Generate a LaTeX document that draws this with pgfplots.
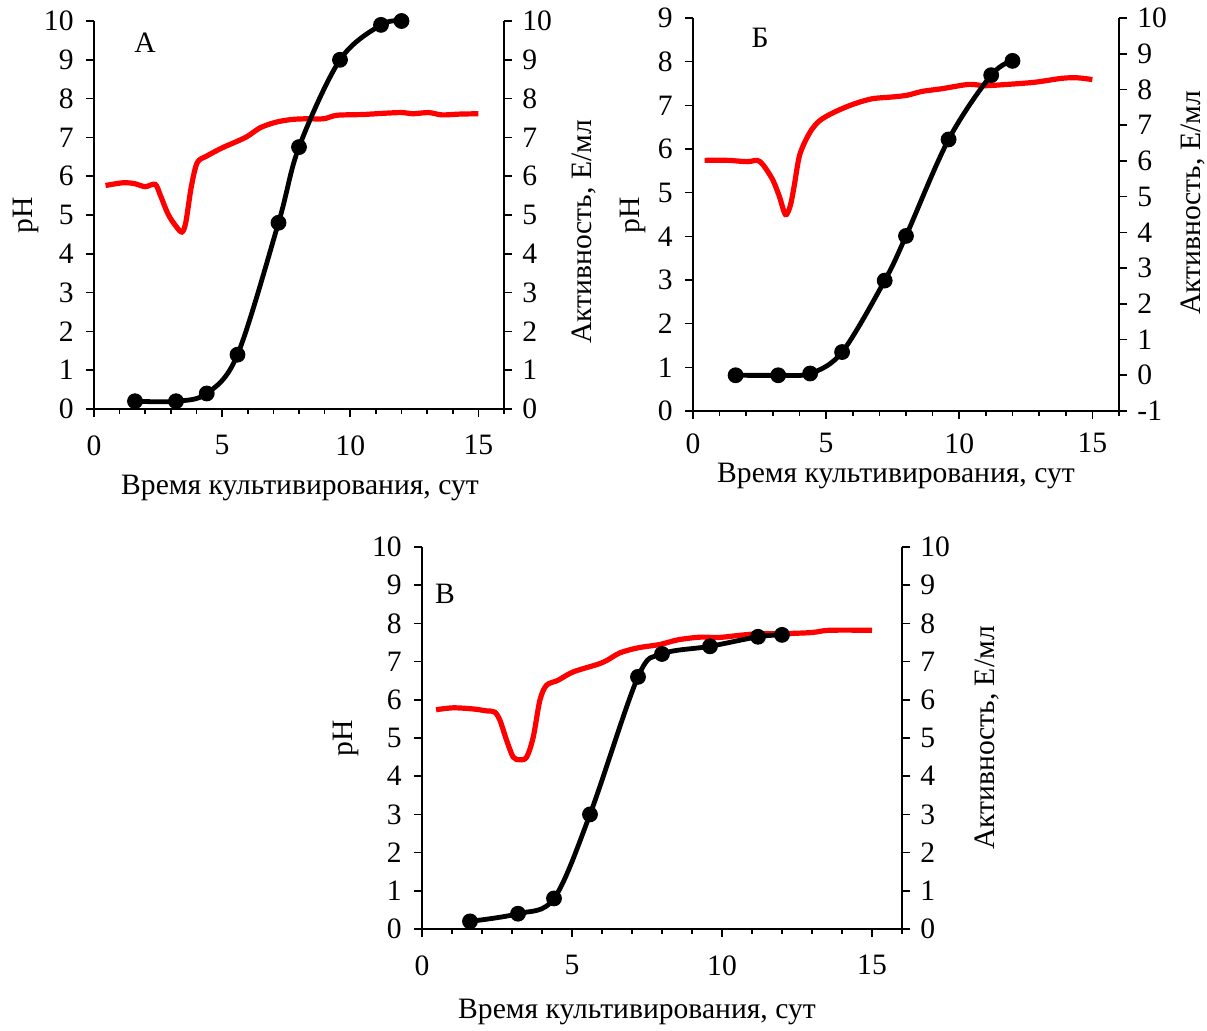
\documentclass[border=0pt]{standalone}
\usepackage{pgfplots}
\pgfplotsset{compat=1.18}
\usepackage{fontspec}
\setmainfont{Liberation Serif}
\definecolor{phred}{RGB}{255,0,0}
\begin{document}
\begin{tikzpicture}[font=\fontsize{14.8}{17}\selectfont]
\pgfplotsset{
 every axis/.append style={scale only axis,
   /pgf/number format/assume math mode=true,
   tick style={black, line width=0.8pt},
   axis line style={black, line width=0.9pt},
   tick label style={font=\fontsize{14.8}{17}\selectfont, inner sep=1pt},
   clip=false},
 base/.style={xmin=0, xmax=16, tick align=outside, major tick length=4pt, minor tick length=2.5pt},
 leftax/.style={base, axis x line*=bottom, axis y line*=left, xtick={0,5,10,15}, minor xtick={0,...,16}, xticklabel style={yshift=#1}, yticklabel style={xshift=-5pt}},
 leftax/.default=-8pt,
 rightax/.style={base, axis x line=none, axis y line*=right, yticklabel style={xshift=4pt}},
 redline/.style={phred, line width=2.6pt, smooth, tension=0.5, no marks},
 blackline/.style={black, line width=2.4pt, smooth, tension=0.55, mark=*, mark size=3.7pt, mark options={fill=black, line width=0.5pt}},
}
\path[use as bounding box] (0,0) rectangle (603.5pt,515pt);

% ---------- Panel A ----------
\begin{axis}[leftax, at={(47pt,310.5pt)}, anchor=south west, width=205pt, height=194pt,
  ymin=0, ymax=10, ytick={0,...,10}]
\addplot[redline] coordinates {
(0.45,5.76) (1.12,5.83) (1.57,5.81) (2.0,5.73) (2.39,5.79) (2.6,5.49) (2.9,5.01) (3.2,4.71) (3.43,4.56) (3.58,4.8) (3.8,5.74) (4.03,6.35) (4.4,6.52) (5.0,6.73) (5.45,6.86) (5.97,7.02) (6.49,7.25) (7.09,7.39) (7.69,7.46) (8.28,7.48) (8.96,7.48) (9.48,7.57) (10.5,7.59) (11.27,7.62) (12.0,7.64) (12.46,7.61) (13.06,7.64) (13.58,7.58) (14.25,7.6) (15.0,7.61)};
\end{axis}
\begin{axis}[rightax, at={(47pt,310.5pt)}, anchor=south west, width=205pt, height=194pt,
  ymin=0, ymax=10, ytick={0,...,10}]
\addplot[blackline] coordinates {
(1.6,0.2) (3.2,0.2) (4.4,0.4) (5.6,1.4) (7.2,4.8) (8.0,6.75) (9.6,9.0) (11.2,9.9) (12.0,10.0)};
\end{axis}

% ---------- Panel B ----------
\begin{axis}[leftax=-6pt, at={(346.5pt,309.5pt)}, anchor=south west, width=213pt, height=196.5pt,
  ymin=0, ymax=9, ytick={0,...,9}]
\addplot[redline] coordinates {
(0.44,5.74) (1.31,5.74) (2.04,5.71) (2.41,5.74) (2.63,5.64) (2.99,5.30) (3.24,4.92) (3.47,4.5) (3.65,4.69) (3.8,5.15) (4.01,5.87) (4.38,6.37) (4.74,6.64) (5.26,6.83) (5.99,7.02) (6.72,7.15) (7.45,7.19) (8.03,7.23) (8.61,7.32) (9.34,7.38) (10.36,7.48) (10.95,7.45) (11.82,7.48) (12.85,7.53) (13.87,7.62) (14.45,7.63) (15.0,7.59)};
\end{axis}
\begin{axis}[rightax, at={(346.5pt,309.5pt)}, anchor=south west, width=213pt, height=196.5pt,
  ymin=-1, ymax=10, ytick={-1,0,...,10}, yticklabels={-1,0,1,2,3,4,5,6,7,8,9,10}]
\addplot[blackline] coordinates {
(1.6,0) (3.2,0) (4.4,0.05) (5.6,0.65) (7.2,2.65) (8.0,3.9) (9.6,6.6) (11.2,8.4) (12.0,8.8)};
\end{axis}

% ---------- Panel V ----------
\begin{axis}[leftax, at={(211pt,50.5pt)}, anchor=south west, width=240pt, height=191pt,
  ymin=0, ymax=10, ytick={0,...,10}]
\addplot[redline] coordinates {
(0.47,5.74) (1.04,5.79) (1.71,5.76) (2.15,5.71) (2.42,5.68) (2.6,5.46) (2.82,4.94) (3.04,4.5) (3.26,4.43) (3.49,4.5) (3.71,5.03) (3.93,5.99) (4.15,6.38) (4.53,6.51) (5.04,6.73) (5.86,6.93) (6.16,7.03) (6.6,7.23) (7.2,7.36) (7.94,7.45) (8.53,7.57) (9.27,7.64) (9.87,7.63) (10.61,7.69) (11.2,7.73) (11.94,7.73) (12.98,7.76) (13.58,7.82) (15.0,7.82)};
\end{axis}
\begin{axis}[rightax, at={(211pt,50.5pt)}, anchor=south west, width=240pt, height=191pt,
  ymin=0, ymax=10, ytick={0,...,10}]
\addplot[blackline] coordinates {
(1.6,0.2) (3.2,0.4) (4.4,0.8) (5.6,3.0) (7.2,6.6) (8.0,7.2) (9.6,7.4) (11.2,7.65) (12.0,7.7)};
\end{axis}

% ---------- texts ----------
\begin{scope}[x=0.5pt, y=-0.5pt, shift={(0,515pt)}, every node/.style={inner sep=1pt}]
\node at (145,43) {А};
\node at (760,38) {Б};
\node at (445,594) {В};
\node[rotate=90] at (26,215) {pH};
\node[rotate=90] at (633,215) {pH};
\node[rotate=90] at (346,738) {pH};
\node[rotate=90] at (584,232) {Активность, Е/мл};
\node[rotate=90] at (1193,203) {Активность, Е/мл};
\node[rotate=90] at (987,738) {Активность, Е/мл};
\node at (300,488) {Время культивирования, сут};
\node at (896,476) {Время культивирования, сут};
\node at (637,1012) {Время культивирования, сут};
\end{scope}
\end{tikzpicture}
\end{document}
